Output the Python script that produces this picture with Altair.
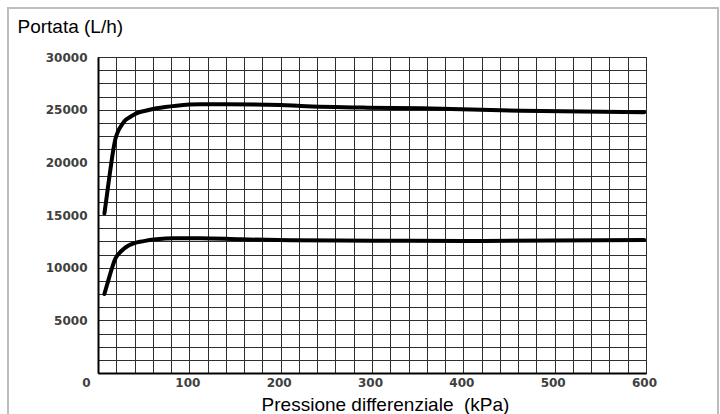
import altair as alt
import pandas as pd

# Upper curve
pressure_upper = [7, 9, 11, 13, 15, 17, 19, 22, 26, 30, 36, 42, 52, 64, 86, 112, 140, 200, 222, 295, 353, 386, 463, 598]
flow_upper = [15150, 16400, 17700, 18960, 20200, 21300, 22200, 22950, 23550, 24000, 24350, 24650, 24900,
              25130, 25380, 25510, 25510, 25440, 25350, 25190, 25130, 25060, 24900, 24750]

# Lower curve
pressure_lower = [7, 10, 13, 16, 19, 23, 28, 33, 39, 50, 64, 83, 112, 156, 211, 300, 400, 500, 598]
flow_lower = [7500, 8400, 9300, 10150, 10850, 11350, 11770, 12080, 12310, 12520, 12690, 12790, 12790,
              12690, 12600, 12560, 12540, 12580, 12630]

x_grid_values = list(range(0, 601, 20))
y_grid_values = list(range(0, 30001, 1250))

df = pd.DataFrame({
    "p": pressure_upper + pressure_lower,
    "q": flow_upper + flow_lower,
    "s": ["upper"] * len(pressure_upper) + ["lower"] * len(pressure_lower),
})

W, H = 548, 316
PAD_L, PAD_T = 98, 57

x_axis = alt.Axis(
    values=x_grid_values,
    labelExpr="datum.value % 100 == 0 ? datum.label : ''",
    format="d",
    grid=True, gridColor="#2e2e2e", gridWidth=1,
    domain=True, domainColor="#000000", domainWidth=2,
    ticks=False,
    labelFont="DejaVu Sans", labelFontSize=12, labelFontWeight="bold", labelColor="#404040",
    labelPadding=4, labelOverlap=False, labelFlush=False,
    labelOffset={"condition": {"test": "datum.value == 0", "value": -12}, "value": -2},
    title="Pressione differenziale\u00a0 (kPa)",
    titleFont="Liberation Sans", titleFontSize=19, titleFontWeight="normal", titleColor="#000000",
    titleX=287, titleY=37, titleAlign="center", titleBaseline="alphabetic",
)

y_axis = alt.Axis(
    values=y_grid_values,
    labelExpr="(datum.value % 5000 == 0 && datum.value > 0) ? datum.label : ''",
    format="d",
    grid=True, gridColor="#2e2e2e", gridWidth=1,
    domain=True, domainColor="#000000", domainWidth=2,
    ticks=False,
    labelFont="DejaVu Sans", labelFontSize=12, labelFontWeight="bold", labelColor="#404040",
    labelPadding=11, labelOverlap=False, labelBaseline="middle", labelFlush=False,
    title="Portata (L/h)",
    titleFont="Liberation Sans", titleFontSize=19, titleFontWeight="normal", titleColor="#000000",
    titleAngle=0, titleAlign="left", titleBaseline="alphabetic",
    titleX=-81, titleY=-25,
)

lines = alt.Chart(df).mark_line(
    color="#000000", strokeWidth=4, interpolate="monotone", strokeCap="round"
).encode(
    x=alt.X("p:Q", scale=alt.Scale(domain=[0, 600], nice=False), axis=x_axis),
    y=alt.Y("q:Q", scale=alt.Scale(domain=[0, 30000], nice=False), axis=y_axis),
    detail="s:N",
)

frame = alt.Chart(pd.DataFrame({"a": [0]})).mark_rect(
    fill="transparent", stroke="#bdbdbd", strokeWidth=2
).encode(
    x=alt.value(-90), x2=alt.value(620), y=alt.value(-49), y2=alt.value(380)
)

chart = alt.layer(frame, lines).properties(
    width=W, height=H,
    autosize=alt.AutoSizeParams(type="none"),
    padding={"left": PAD_L, "top": PAD_T, "right": 720 - PAD_L - W, "bottom": 414 - PAD_T - H},
    background="#ffffff",
).configure_view(stroke="#000000", strokeWidth=1)

chart.save("out.html", embed_options={"renderer": "svg", "actions": False})
